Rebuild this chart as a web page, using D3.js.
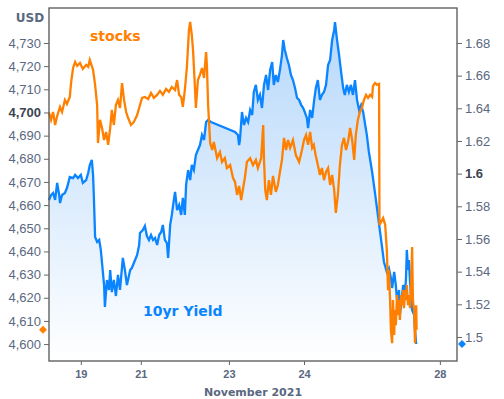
<!DOCTYPE html>
<html>
<head>
<meta charset="utf-8">
<script src="https://cdn.jsdelivr.net/npm/d3@7"></script>
<style>
  body { margin: 0; background: #fff; }
  svg { display: block; font-family: "DejaVu Sans", Verdana, sans-serif; }
</style>
</head>
<body>
<figure id="chart" style="margin:0"></figure>
<script>
// session index (0-100) for x
const xTickPos = [7.8, 22.5, 44.1, 62.5, 95.8];
const xTickLabels = ['19', '21', '23', '24', '28'];
const leftTicks = [4600, 4610, 4620, 4630, 4640, 4650, 4660, 4670, 4680, 4690, 4700, 4710, 4720, 4730];
const rightTicks = [1.5, 1.52, 1.54, 1.56, 1.58, 1.6, 1.62, 1.64, 1.66, 1.68];

const stockT = [0, 0.5, 1.0, 1.5, 2.0, 2.7, 3.2, 3.9, 4.4, 5.1, 5.4, 5.9, 6.4, 6.9, 7.6, 8.3, 9.1, 9.6, 10.0, 10.8,
  11.3, 11.8, 12.0, 12.5, 13.0, 13.5, 14.0, 14.5, 15.0, 15.4, 15.9, 16.4, 16.9, 17.4, 17.9, 18.4, 18.9, 19.4, 20.1, 20.8,
  21.6, 22.3, 22.8, 23.5, 24.3, 25.0, 25.7, 26.5, 27.2, 27.9, 28.7, 29.4, 30.1, 30.9, 31.4, 31.9, 32.4, 32.8, 33.3, 33.8,
  34.3, 34.6, 35.0, 35.3, 35.8, 36.0, 36.5, 37.0, 37.5, 38.0, 38.5, 38.7, 39.0, 39.5, 40.0, 40.4, 41.2, 41.9, 42.4, 43.1,
  43.6, 44.4, 45.1, 45.6, 46.1, 46.6, 47.1, 47.5, 48.0, 48.5, 49.3, 50.0, 50.7, 51.2, 52.0, 52.5, 52.7, 53.0, 53.4, 53.9,
  54.4, 54.9, 55.6, 56.1, 56.6, 57.1, 57.6, 58.1, 58.6, 59.1, 59.8, 60.5, 61.3, 62.0, 62.5, 63.0, 63.5, 64.0, 64.5, 64.9,
  65.4, 65.9, 66.4, 66.9, 67.4, 67.9, 68.4, 68.9, 69.4, 69.9, 70.3, 70.8, 71.3, 71.8, 72.3, 72.8, 73.3, 73.8, 74.3, 74.8,
  75.2, 75.7, 76.2, 76.7, 77.2, 77.7, 78.2, 78.7, 79.2, 79.4, 79.9, 80.4, 80.9, 81.0, 81.4, 81.9, 82.4, 82.8, 83.1, 83.3,
  83.6, 83.8, 84.1, 84.3, 84.6, 84.8, 85.0, 85.3, 85.5, 85.8, 86.0, 86.3, 86.5, 86.8, 87.0, 87.3, 87.5, 87.7, 88.0, 88.2,
  88.5, 88.7, 89.0, 89.2, 89.5, 89.7, 90.0, 90.1];
const stockV = [4700, 4696.8, 4700.2, 4694.6, 4698.5, 4702.4, 4700.2, 4705.4, 4703.7, 4706.7, 4712.7, 4719.2, 4721.8, 4720.1, 4721.4, 4718.8, 4720.5, 4719.7, 4722.7, 4718.4,
  4711.9, 4703.2, 4686.8, 4696.8, 4693.3, 4688.1, 4691.6, 4686.0, 4693.3, 4701.1, 4694.6, 4703.2, 4705.4, 4701.9, 4712.7, 4705.4, 4700.2, 4697.6, 4694.6, 4695.9,
  4698.9, 4703.2, 4706.3, 4706.7, 4705.8, 4708.4, 4706.3, 4707.6, 4709.3, 4707.6, 4710.2, 4708.9, 4711.0, 4709.7, 4714.0, 4707.6, 4706.7, 4702.4, 4709.7, 4719.7,
  4735.6, 4739.1, 4733.5, 4727.0, 4709.7, 4702.0, 4714.0, 4716.2, 4719.2, 4714.9, 4726.1, 4720.5, 4703.2, 4686.8, 4683.8, 4687.3, 4680.3, 4682.9, 4678.6, 4680.3,
  4676.0, 4677.3, 4671.7, 4670.0, 4664.4, 4668.3, 4662.2, 4666.5, 4671.7, 4678.6, 4680.3, 4677.3, 4679.5, 4676.0, 4680.3, 4694.6, 4679.5, 4666.5, 4662.2, 4670.8,
  4664.4, 4672.6, 4665.7, 4668.7, 4674.3, 4679.5, 4689.0, 4683.8, 4688.1, 4684.7, 4688.1, 4681.6, 4678.6, 4683.8, 4688.1, 4690.3, 4686.0, 4691.6, 4684.7, 4686.0,
  4681.2, 4677.3, 4673.0, 4676.0, 4670.8, 4674.3, 4676.0, 4668.7, 4673.0, 4666.5, 4656.6, 4664.4, 4677.3, 4686.0, 4689.0, 4683.8, 4687.3, 4693.3, 4688.1, 4679.5,
  4690.3, 4696.8, 4700.2, 4701.9, 4705.4, 4707.6, 4706.3, 4707.6, 4706.7, 4711.4, 4712.7, 4711.9, 4712.3, 4651.4, 4652.7, 4654.4, 4651.4, 4640.6, 4623.3, 4632.0,
  4619.0, 4606.0, 4600.4, 4619.0, 4603.9, 4614.7, 4608.2, 4621.2, 4612.5, 4619.0, 4610.4, 4621.2, 4616.8, 4623.3, 4615.5, 4623.3, 4619.0, 4625.5, 4616.8, 4621.2,
  4615.5, 4623.3, 4641.9, 4619.0, 4614.7, 4600.4, 4616.8, 4606.2];

const yieldT = [0, 0.5, 1.0, 1.5, 2.0, 2.5, 2.7, 3.2, 3.9, 4.4, 5.1, 5.9, 6.4, 7.1, 7.8, 8.3, 9.1, 9.6, 10.0, 10.5,
  10.8, 11.0, 11.3, 11.8, 12.3, 12.7, 13.0, 13.5, 13.7, 14.2, 14.7, 15.0, 15.4, 15.9, 16.4, 16.9, 17.4, 18.1, 18.6, 19.1,
  19.9, 20.3, 21.1, 21.6, 22.1, 22.3, 23.0, 23.5, 24.0, 24.5, 25.0, 25.5, 26.0, 26.5, 27.0, 27.5, 27.9, 28.4, 28.9, 29.2,
  29.7, 30.1, 30.6, 30.9, 31.4, 31.9, 32.4, 32.8, 33.3, 33.6, 34.1, 34.6, 35.0, 35.5, 36.0, 36.5, 37.0, 37.5, 38.0, 38.5,
  39.0, 39.7, 45.6, 46.3, 46.6, 46.8, 47.3, 47.8, 48.3, 48.8, 49.3, 49.8, 50.2, 50.7, 51.2, 51.7, 52.2, 52.7, 53.2, 53.7,
  54.2, 54.7, 55.1, 55.6, 56.1, 56.6, 57.1, 57.4, 57.8, 58.3, 58.8, 59.3, 59.8, 60.3, 60.8, 61.3, 61.8, 62.3, 62.7, 63.2,
  63.5, 64.0, 64.5, 65.0, 65.4, 65.9, 66.4, 66.9, 67.4, 67.9, 68.4, 68.9, 69.4, 69.9, 70.1, 70.6, 71.1, 71.6, 72.1, 72.5,
  73.0, 73.5, 74.0, 74.5, 75.0, 75.5, 76.0, 76.5, 77.0, 77.5, 77.9, 78.4, 79.2, 79.9, 80.6, 81.4, 82.1, 82.8, 83.3, 83.8,
  84.1, 84.6, 85.0, 85.3, 85.8, 86.0, 86.3, 86.8, 87.3, 87.5, 87.7, 88.0, 88.2, 88.5, 88.7, 89.0, 89.5, 89.7, 90.0];
const yieldV = [1.5839, 1.5869, 1.5882, 1.5839, 1.5943, 1.5869, 1.5820, 1.5869, 1.5882, 1.5912, 1.5979, 1.5973, 1.5992, 1.5973, 1.5992, 1.5943, 1.5961, 1.6004, 1.6053, 1.6084,
  1.5992, 1.5857, 1.5612, 1.5582, 1.5594, 1.5533, 1.5453, 1.5318, 1.5184, 1.5349, 1.5288, 1.5410, 1.5275, 1.5349, 1.5251, 1.5380, 1.5288, 1.5484, 1.5410, 1.5318,
  1.5410, 1.5422, 1.5471, 1.5502, 1.5563, 1.5637, 1.5655, 1.5680, 1.5618, 1.5594, 1.5624, 1.5594, 1.5606, 1.5563, 1.5624, 1.5643, 1.5686, 1.5594, 1.5575, 1.5484,
  1.5686, 1.5747, 1.5839, 1.5888, 1.5777, 1.5808, 1.5747, 1.5851, 1.5747, 1.5931, 1.6022, 1.5961, 1.6053, 1.6022, 1.6114, 1.6145, 1.6175, 1.6237, 1.6206, 1.6316,
  1.6328, 1.6316, 1.6255, 1.6237, 1.6175, 1.6206, 1.6377, 1.6298, 1.6341, 1.6316, 1.6390, 1.6359, 1.6500, 1.6543, 1.6451, 1.6482, 1.6402, 1.6543, 1.6604, 1.6512,
  1.6634, 1.6683, 1.6543, 1.6604, 1.6561, 1.6634, 1.6726, 1.6818, 1.6757, 1.6708, 1.6665, 1.6604, 1.6573, 1.6524, 1.6463, 1.6451, 1.6420, 1.6402, 1.6377, 1.6341,
  1.6279, 1.6390, 1.6341, 1.6451, 1.6524, 1.6573, 1.6451, 1.6482, 1.6500, 1.6543, 1.6665, 1.6696, 1.6818, 1.6879, 1.6928, 1.6818, 1.6726, 1.6622, 1.6524, 1.6482,
  1.6543, 1.6500, 1.6543, 1.6482, 1.6573, 1.6451, 1.6390, 1.6420, 1.6377, 1.6298, 1.6237, 1.6133, 1.6010, 1.5882, 1.5747, 1.5594, 1.5459, 1.5398, 1.5422, 1.5361,
  1.5300, 1.5398, 1.5318, 1.5227, 1.5288, 1.5135, 1.5196, 1.5318, 1.5288, 1.5361, 1.5533, 1.5410, 1.5471, 1.5337, 1.5257, 1.5165, 1.5135, 1.5043, 1.4957];

const stockColor = '#ff8000';
const yieldColor = '#0a84ff';
const tickColor = '#5a6880';
const boldColor = '#3b4452';

const W = 504, H = 399;
const margin = { top: 8, right: 47, bottom: 38, left: 49 };
const innerW = W - margin.left - margin.right;
const innerH = H - margin.top - margin.bottom;

const svg = d3.select('#chart').append('svg')
  .attr('width', W)
  .attr('height', H);

const x = d3.scaleLinear().domain([0, 100]).range([margin.left, margin.left + innerW]);
const yL = d3.scaleLinear().domain([4592.7, 4745.1]).range([margin.top + innerH, margin.top]);
const yR = d3.scaleLinear().domain([1.4853, 1.7014]).range([margin.top + innerH, margin.top]);

const defs = svg.append('defs');
const grad = defs.append('linearGradient')
  .attr('id', 'yieldFill')
  .attr('gradientUnits', 'userSpaceOnUse')
  .attr('x1', 0).attr('x2', 0)
  .attr('y1', margin.top).attr('y2', margin.top + innerH);
grad.append('stop').attr('offset', '0%').attr('stop-color', '#b3d6fa');
grad.append('stop').attr('offset', '100%').attr('stop-color', '#ffffff');

const yieldData = yieldT.map((t, i) => ({ t, v: yieldV[i] }));
const stockData = stockT.map((t, i) => ({ t, v: stockV[i] }));

// blue area + line
svg.append('path')
  .datum(yieldData)
  .attr('fill', 'url(#yieldFill)')
  .attr('d', d3.area()
    .x(d => x(d.t))
    .y0(margin.top + innerH)
    .y1(d => yR(d.v)));

svg.append('path')
  .datum(yieldData)
  .attr('fill', 'none')
  .attr('stroke', yieldColor)
  .attr('stroke-width', 2.3)
  .attr('d', d3.line().x(d => x(d.t)).y(d => yR(d.v)));

svg.append('path')
  .datum(stockData)
  .attr('fill', 'none')
  .attr('stroke', stockColor)
  .attr('stroke-width', 2.3)
  .attr('d', d3.line().x(d => x(d.t)).y(d => yL(d.v)));

// frame
svg.append('rect')
  .attr('x', margin.left).attr('y', margin.top)
  .attr('width', innerW).attr('height', innerH)
  .attr('fill', 'none')
  .attr('stroke', '#555')
  .attr('stroke-width', 1.3);

// left axis
const gL = svg.append('g')
  .attr('transform', `translate(${margin.left},0)`)
  .call(d3.axisLeft(yL).tickValues(leftTicks).tickSize(5).tickPadding(3).tickFormat(d3.format(',')));
gL.select('.domain').remove();
gL.selectAll('line').attr('stroke', '#666');
gL.selectAll('text')
  .style('font-size', '13px')
  .attr('fill', d => d === 4700 ? boldColor : tickColor)
  .style('font-weight', d => d === 4700 ? 'bold' : 'normal');

// right axis
const gR = svg.append('g')
  .attr('transform', `translate(${margin.left + innerW},0)`)
  .call(d3.axisRight(yR).tickValues(rightTicks).tickSize(5).tickPadding(3).tickFormat(d => String(d)));
gR.select('.domain').remove();
gR.selectAll('line').attr('stroke', '#666');
gR.selectAll('text')
  .style('font-size', '13px')
  .attr('fill', d => d === 1.6 ? boldColor : tickColor)
  .style('font-weight', d => d === 1.6 ? 'bold' : 'normal');

// bottom axis
const gB = svg.append('g')
  .attr('transform', `translate(0,${margin.top + innerH})`)
  .call(d3.axisBottom(x).tickValues(xTickPos).tickSize(4).tickPadding(5)
    .tickFormat((d, i) => xTickLabels[i]));
gB.select('.domain').remove();
gB.selectAll('line').attr('stroke', '#666');
gB.selectAll('text')
  .style('font-size', '11px')
  .style('font-weight', 'bold')
  .attr('fill', tickColor);

svg.append('text')
  .attr('x', 253).attr('y', 396)
  .attr('text-anchor', 'middle')
  .style('font-size', '11px').style('font-weight', 'bold')
  .attr('fill', tickColor)
  .text('November 2021');

svg.append('text')
  .attr('x', 30).attr('y', 22)
  .attr('text-anchor', 'middle')
  .style('font-size', '12px').style('font-weight', 'bold')
  .attr('fill', tickColor)
  .text('USD');

// series labels
svg.append('text')
  .attr('x', 90).attr('y', 41)
  .style('font-size', '14px').style('font-weight', 'bold')
  .attr('fill', stockColor)
  .text('stocks');

svg.append('text')
  .attr('x', 143).attr('y', 316)
  .style('font-size', '14px').style('font-weight', 'bold')
  .attr('fill', yieldColor)
  .text('10yr Yield');

// last-value markers
const diamond = d3.symbol().type(d3.symbolDiamond2).size(40);
svg.append('path')
  .attr('d', diamond)
  .attr('fill', stockColor)
  .attr('transform', `translate(${margin.left - 6},${yL(stockV[stockV.length - 1])})`);
svg.append('path')
  .attr('d', diamond)
  .attr('fill', yieldColor)
  .attr('transform', `translate(${margin.left + innerW + 5},${yR(yieldV[yieldV.length - 1])})`);
</script>
</body>
</html>
